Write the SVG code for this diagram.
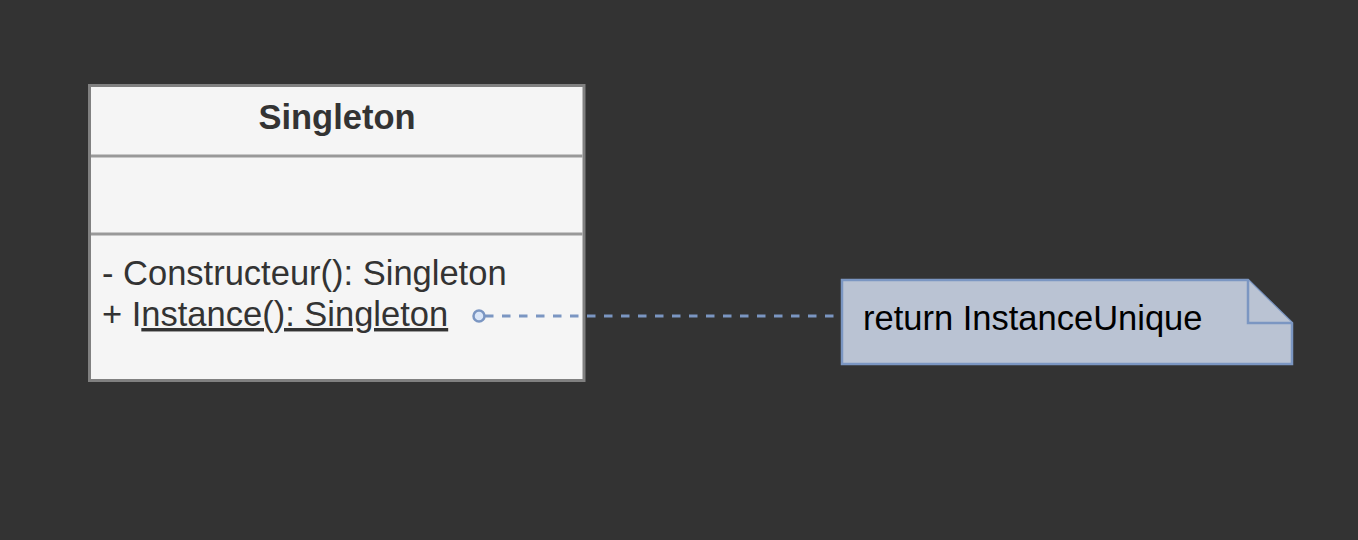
<svg xmlns="http://www.w3.org/2000/svg" width="1358" height="540" viewBox="0 0 1358 540">
  <defs>
    <style>
      .txt { font-family: "Liberation Sans", Arial, Helvetica, sans-serif; font-size: 34.5px; fill: #333333; }
      .title { font-weight: bold; }
      .note-txt { font-family: "Liberation Sans", Arial, Helvetica, sans-serif; font-size: 34.5px; fill: #000000; }
      .cls-box { fill: #f5f5f5; stroke: #808080; stroke-width: 3; }
      .divider { stroke: #999999; stroke-width: 3; }
      .note { fill: #bac3d3; stroke: #7b96c2; stroke-width: 2.5; }
      .conn { stroke: #7b96c2; stroke-width: 2.8; stroke-dasharray: 8.5 8.5; fill: none; }
    </style>
  </defs>
  <rect width="1358" height="540" fill="#333333"/>

  <g id="singleton">
    <rect class="cls-box" x="89.5" y="85.5" width="494.5" height="295"/>
    <line class="divider" x1="91" y1="156" x2="582.5" y2="156"/>
    <line class="divider" x1="91" y1="234" x2="582.5" y2="234"/>
    <text class="txt title" x="337" y="129" text-anchor="middle">Singleton</text>
    <text class="txt" x="102" y="285">- Constructeur(): Singleton</text>
    <text class="txt" x="102" y="326">+ I<tspan text-decoration="underline">nstance(): Singleton</tspan></text>
  </g>

  <g id="note">
    <path class="note" d="M842,280 L1248,280 L1292,323 L1292,364 L842,364 Z"/>
    <path class="note" d="M1248,280 L1248,323 L1292,323" fill="none"/>
    <text class="note-txt" x="863" y="330">return InstanceUnique</text>
  </g>

  <g id="connectors">
    <line class="conn" x1="485" y1="316" x2="842" y2="316"/>
    <circle cx="479" cy="316" r="5.5" fill="#dae6f8" stroke="#7b96c2" stroke-width="2.5"/>
  </g>
</svg>
